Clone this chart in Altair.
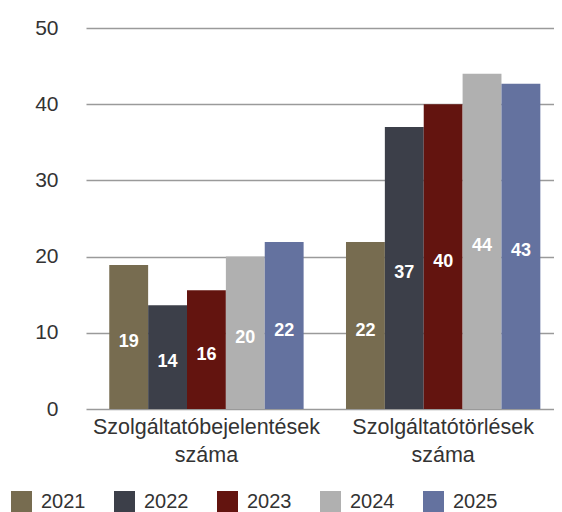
import altair as alt
import pandas as pd

categories = ["Szolgáltatóbejelentések száma", "Szolgáltatótörlések száma"]
years = ["2021", "2022", "2023", "2024", "2025"]
values_bejelentes = [18.9, 13.6, 15.6, 20.0, 21.9]
values_torles = [21.9, 37.0, 40.0, 44.0, 42.7]
colors = ["#776c50", "#3c3f49", "#63140f", "#b0b0b0", "#64729f"]

rows = []
for cat, vals in zip(categories, [values_bejelentes, values_torles]):
    for y, v in zip(years, vals):
        rows.append({"cat": cat, "year": y, "value": v})
df = pd.DataFrame(rows)

FONT = "Liberation Sans"

x_enc = alt.X(
    "cat:N",
    sort=categories,
    scale=alt.Scale(paddingInner=0.179, paddingOuter=0.078, align=0.63),
    axis=alt.Axis(
        title=None,
        labelAngle=0,
        labelExpr="split(datum.label, ' ')",
        labelFontSize=21.5,
        labelLineHeight=28,
        labelPadding=7,
        labelColor="#333333",
        labelFont=FONT,
        ticks=False,
        domain=False,
        labelLimit=400,
    ),
)
xoff = alt.XOffset("year:N", sort=years)

bars = alt.Chart(df).mark_bar(strokeWidth=0).encode(
    x=x_enc,
    xOffset=xoff,
    y=alt.Y(
        "value:Q",
        scale=alt.Scale(domain=[0, 50], nice=False),
        axis=alt.Axis(
            title=None,
            values=[0, 10, 20, 30, 40, 50],
            labelFontSize=21,
            labelPadding=28,
            labelColor="#333333",
            labelFont=FONT,
            ticks=False,
            domain=False,
            grid=True,
            gridColor="#9a9a9a",
            gridWidth=1.3,
        ),
    ),
    color=alt.Color(
        "year:N",
        sort=years,
        scale=alt.Scale(domain=years, range=colors),
        legend=alt.Legend(
            title=None,
            orient="none",
            direction="horizontal",
            legendX=-75,
            legendY=463,
            padding=0,
            symbolType="square",
            symbolSize=441,
            symbolStrokeWidth=0,
            symbolOpacity=1,
            labelFontSize=20,
            labelFont=FONT,
            labelColor="#333333",
            labelOffset=9,
            columnPadding=28,
        ),
    ),
)

labels = alt.Chart(df).transform_calculate(
    mid="datum.value / 2"
).mark_text(
    color="white", fontWeight="bold", fontSize=18, font=FONT, baseline="middle", dy=5
).encode(
    x=alt.X("cat:N", sort=categories),
    xOffset=xoff,
    y=alt.Y("mid:Q"),
    text=alt.Text("value:Q", format=".0f"),
)

chart = alt.layer(bars, labels).properties(
    width=468,
    height=381,
    autosize=alt.AutoSizeParams(type="none"),
    padding={"left": 78, "top": 20, "right": 0, "bottom": 103},
).configure_view(stroke=None)

chart.save("out.html", embed_options={"renderer": "svg", "actions": False})
